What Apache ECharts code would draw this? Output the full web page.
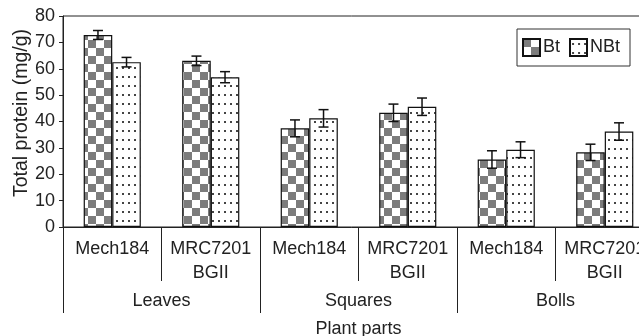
<!DOCTYPE html>
<html>
<head>
<meta charset="utf-8">
<script src="https://cdn.jsdelivr.net/npm/echarts@6/dist/echarts.min.js"></script>
<style>
html,body{margin:0;padding:0;background:#fff;}
#chart{width:639px;height:336px;}
</style>
</head>
<body>
<div id="chart"></div>
<script>
// ---- data ----
const cultivars = ['Mech184', 'MRC7201\nBGII', 'Mech184', 'MRC7201\nBGII', 'Mech184', 'MRC7201\nBGII'];
const plantParts = ['Leaves', 'Squares', 'Bolls'];
const btValues = [72.8, 63.0, 37.4, 43.3, 25.6, 28.3];
const btErrors = [1.7, 1.8, 3.2, 3.3, 3.3, 3.1];
const nbtValues = [62.5, 56.8, 41.2, 45.6, 29.3, 36.2];
const nbtErrors = [1.8, 2.1, 3.3, 3.3, 3.0, 3.3];
const yTicks = [0, 10, 20, 30, 40, 50, 60, 70, 80];

const FONT = '"Liberation Sans", Arial, sans-serif';

function checkerPattern() {
  const c = document.createElement('canvas');
  c.width = 16; c.height = 16;
  const g = c.getContext('2d');
  g.fillStyle = '#ffffff'; g.fillRect(0, 0, 16, 16);
  g.fillStyle = '#7c7c7c';
  g.fillRect(0, 0, 8, 8);
  g.fillRect(8, 8, 8, 8);
  return c;
}
function dotPattern() {
  const c = document.createElement('canvas');
  c.width = 6; c.height = 9;
  const g = c.getContext('2d');
  g.fillStyle = '#ffffff'; g.fillRect(0, 0, 6, 9);
  g.fillStyle = '#444444';
  g.fillRect(2, 4, 2, 2);
  return c;
}

const BAR_W = 0.29;
function errRender(sign) {
  return function (params, api) {
    const idx = api.value(0), v = api.value(1), e = api.value(2);
    const hi = api.coord([idx, v + e]);
    const lo = api.coord([idx, v - e]);
    const band = api.size([1, 0])[0];
    const cx = hi[0] + sign * band * BAR_W / 2;
    const cap = 5;
    const st = { stroke: '#111', lineWidth: 1.5 };
    return {
      type: 'group',
      children: [
        { type: 'line', shape: { x1: cx, y1: hi[1], x2: cx, y2: lo[1] }, style: st },
        { type: 'line', shape: { x1: cx - cap, y1: hi[1], x2: cx + cap, y2: hi[1] }, style: st },
        { type: 'line', shape: { x1: cx - cap, y1: lo[1], x2: cx + cap, y2: lo[1] }, style: st }
      ]
    };
  };
}

const chart = echarts.init(document.getElementById('chart'), null, { renderer: 'canvas' });
const option = {
  backgroundColor: '#fff',
  animation: false,
  textStyle: { fontFamily: FONT, color: '#222' },
  grid: { left: 63, top: 16, width: 591, height: 211, show: true, borderColor: '#222', borderWidth: 1, backgroundColor: 'transparent', containLabel: false, outerBoundsMode: 'none' },
  legend: {
    left: 517, top: 29,
    padding: [9, 10, 9, 5],
    borderColor: '#333', borderWidth: 1,
    itemWidth: 17, itemHeight: 17, itemGap: 9,
    icon: 'rect',
    textStyle: { fontFamily: FONT, fontSize: 18, color: '#222', padding: [0, 0, 0, -2] },
    data: ['Bt', 'NBt']
  },
  xAxis: [
    {
      type: 'category', data: cultivars, position: 'bottom',
      axisLine: { show: true, lineStyle: { color: '#222', width: 1 } },
      axisTick: { show: true, length: 54, lineStyle: { color: '#222', width: 1 } },
      axisLabel: { fontFamily: FONT, fontSize: 18, color: '#222', margin: 10, lineHeight: 24, interval: 0 }
    },
    {
      type: 'category', data: plantParts, position: 'bottom',
      axisLine: { show: false },
      axisTick: { show: true, length: 86, lineStyle: { color: '#222', width: 1 } },
      axisLabel: { fontFamily: FONT, fontSize: 18, color: '#222', margin: 62, lineHeight: 24, interval: 0 },
      name: 'Plant parts', nameLocation: 'middle', nameGap: 93, nameMoveOverlap: false,
      nameTextStyle: { fontFamily: FONT, fontSize: 18, color: '#222' }
    }
  ],
  yAxis: {
    type: 'value', min: yTicks[0], max: yTicks[yTicks.length - 1], interval: yTicks[1] - yTicks[0],
    axisLine: { show: true, lineStyle: { color: '#222', width: 1 } },
    axisTick: { show: true, length: 4, lineStyle: { color: '#222' } },
    splitLine: { show: false },
    axisLabel: { fontFamily: FONT, fontSize: 18, color: '#222', margin: 8 },
    name: 'Total protein (mg/g)', nameLocation: 'middle', nameGap: 31, nameMoveOverlap: false,
    nameTextStyle: { fontFamily: FONT, fontSize: 19.5, color: '#222', padding: [0, 0, 0, 17] }
  },
  series: [
    {
      name: 'Bt', type: 'bar', data: btValues, barWidth: '29%', barGap: '0%',
      itemStyle: { color: { image: checkerPattern(), repeat: 'repeat' }, borderColor: '#111', borderWidth: 1.2 }
    },
    {
      name: 'NBt', type: 'bar', data: nbtValues, barWidth: '29%', barGap: '0%',
      itemStyle: { color: { image: dotPattern(), repeat: 'repeat' }, borderColor: '#111', borderWidth: 1.2 }
    },
    {
      type: 'custom', renderItem: errRender(-1), z: 5,
      encode: { x: 0, y: 1 },
      data: btValues.map((v, i) => [i, v, btErrors[i]])
    },
    {
      type: 'custom', renderItem: errRender(1), z: 5,
      encode: { x: 0, y: 1 },
      data: nbtValues.map((v, i) => [i, v, nbtErrors[i]])
    }
  ]
};
chart.setOption(option);
</script>
</body>
</html>
